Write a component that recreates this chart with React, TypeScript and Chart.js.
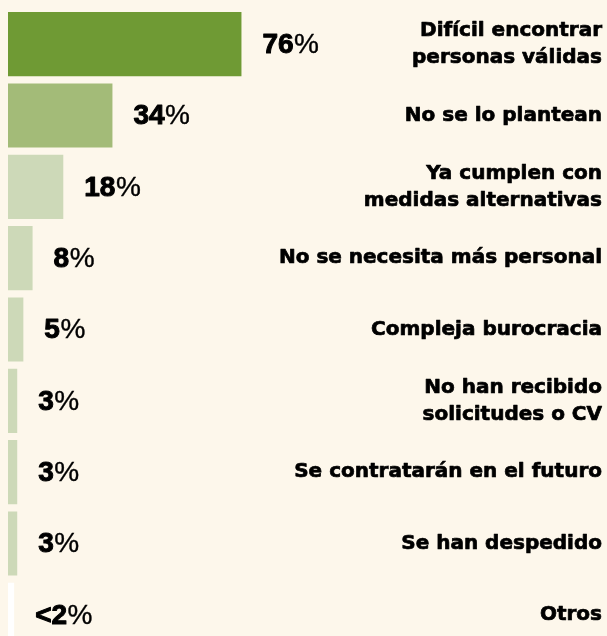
import React, { useEffect, useRef } from "react";
import { Chart, registerables } from "chart.js";

Chart.register(...registerables);

const categories: string[][] = [
  ["Difícil encontrar", "personas válidas"],
  ["No se lo plantean"],
  ["Ya cumplen con", "medidas alternativas"],
  ["No se necesita más personal"],
  ["Compleja burocracia"],
  ["No han recibido", "solicitudes o CV"],
  ["Se contratarán en el futuro"],
  ["Se han despedido"],
  ["Otros"],
];
const values: number[] = [76, 34, 18, 8, 5, 3, 3, 3, 2];
const valueLabels: string[] = ["76", "34", "18", "8", "5", "3", "3", "3", "<2"];
const barColors: string[] = [
  "#6f9a34",
  "#a3bb78",
  "#cdd9b8",
  "#cdd9b8",
  "#cdd9b8",
  "#cdd9b8",
  "#cdd9b8",
  "#cdd9b8",
  "#ffffff",
];

const BG = "#fdf7eb";

const labelPlugin = {
  id: "labelPlugin",
  afterDatasetsDraw(chart: any) {
    const ctx = chart.ctx;
    const meta = chart.getDatasetMeta(0);
    const area = chart.chartArea;
    ctx.save();
    ctx.fillStyle = "#000";
    ctx.strokeStyle = "#000";
    ctx.lineJoin = "round";
    ctx.textBaseline = "middle";
    meta.data.forEach((bar: any, i: number) => {
      const y = bar.y;
      // value label
      let x = bar.x + 21;
      ctx.textAlign = "left";
      ctx.font = "bold 28px 'Liberation Sans', Arial, sans-serif";
      const num = valueLabels[i];
      ctx.lineWidth = 1;
      ctx.fillText(num, x, y + 1);
      ctx.strokeText(num, x, y + 1);
      x += ctx.measureText(num).width + 0.5;
      ctx.font = "28px 'Liberation Sans', Arial, sans-serif";
      ctx.lineWidth = 0.4;
      ctx.fillText("%", x, y + 1);
      ctx.strokeText("%", x, y + 1);
      // category label
      ctx.textAlign = "right";
      ctx.font = "bold 20px 'DejaVu Sans', sans-serif";
      ctx.lineWidth = 0.7;
      const lines = categories[i];
      const lh = 27;
      const startY = y - ((lines.length - 1) * lh) / 2;
      lines.forEach((ln, j) => {
        ctx.fillText(ln, area.right - 5, startY + j * lh);
        ctx.strokeText(ln, area.right - 5, startY + j * lh);
      });
    });
    ctx.restore();
  },
};

export default function App() {
  const ref = useRef<HTMLCanvasElement>(null);
  useEffect(() => {
    if (!ref.current) return;
    const chart = new Chart(ref.current, {
      type: "bar",
      data: {
        labels: categories.map((c) => c.join(" ")),
        datasets: [
          {
            data: values,
            backgroundColor: barColors,
            borderWidth: 0,
            barPercentage: 0.9,
            categoryPercentage: 1,
          },
        ],
      },
      options: {
        indexAxis: "y",
        animation: false,
        responsive: false,
        maintainAspectRatio: false,
        layout: { padding: { top: 8.5, bottom: 9.5, left: 0, right: 0 } },
        plugins: { legend: { display: false }, tooltip: { enabled: false } },
        scales: {
          x: { display: false, min: 0, max: 195 },
          y: { display: false },
        },
      },
      plugins: [labelPlugin],
    });
    return () => chart.destroy();
  }, []);
  return (
    <div
      style={{
        position: "fixed",
        left: 0,
        top: 0,
        width: 607,
        height: 636,
        overflow: "hidden",
        background: BG,
      }}
    >
      <canvas
        ref={ref}
        width={599}
        height={660}
        style={{ position: "absolute", left: 8, top: 0, width: 599, height: 660 }}
      />
    </div>
  );
}
